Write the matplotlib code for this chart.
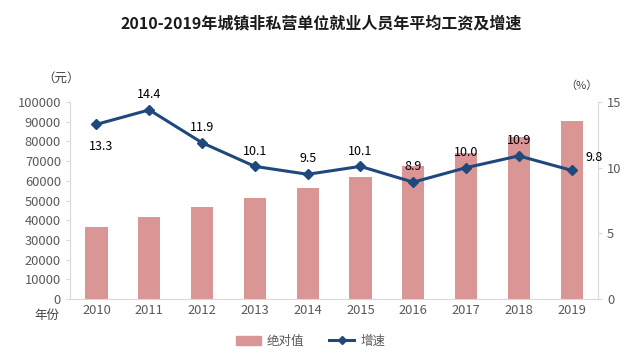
import matplotlib
matplotlib.use("Agg")
import matplotlib.pyplot as plt
from matplotlib.lines import Line2D
from matplotlib.patches import Patch

plt.rcParams['font.family'] = ['Noto Sans CJK SC', 'DejaVu Sans']

years = ['2010', '2011', '2012', '2013', '2014', '2015', '2016', '2017', '2018', '2019']
wages = [36539, 41799, 46769, 51483, 56360, 62029, 67569, 74318, 82413, 90501]
growth = [13.3, 14.4, 11.9, 10.1, 9.5, 10.1, 8.9, 10.0, 10.9, 9.8]
left_ticks = [0, 10000, 20000, 30000, 40000, 50000, 60000, 70000, 80000, 90000, 100000]
right_ticks = [0, 5, 10, 15]

bar_color = '#D99694'
line_color = '#1F497D'
tick_color = '#595959'
spine_color = '#D9D9D9'

fig = plt.figure(figsize=(6.43, 3.63), dpi=100)
ax = fig.add_axes([0.109, 0.176, 0.821, 0.543])
x = list(range(len(years)))
ax.bar(x, wages, width=0.42, color=bar_color, zorder=2)
ax.set_xlim(-0.5, len(years) - 0.5)
ax.set_ylim(0, 100000)
ax.set_yticks(left_ticks)
ax.set_yticklabels([str(t) for t in left_ticks])
ax.set_xticks(x)
ax.set_xticklabels(years)
ax.tick_params(axis='both', colors=tick_color, labelsize=9.3, length=0)
ax.tick_params(axis='y', length=3, color=spine_color)
for s in ['top', 'right']:
    ax.spines[s].set_visible(False)
for s in ['left', 'bottom']:
    ax.spines[s].set_color(spine_color)

ax2 = ax.twinx()
ax2.plot(x, growth, color=line_color, lw=2.2, marker='D', ms=5, zorder=3)
ax2.set_ylim(0, 15)
ax2.set_yticks(right_ticks)
ax2.tick_params(axis='y', colors=tick_color, labelsize=9.3, length=3)
ax2.tick_params(axis='y', color=spine_color)
for s in ['top', 'left', 'bottom']:
    ax2.spines[s].set_visible(False)
ax2.spines['right'].set_color(spine_color)

for i, g in enumerate(growth):
    if i == 0:
        ax2.annotate(f'{g:.1f}', (i, g), xytext=(3, -16), textcoords='offset points',
                     ha='center', va='center', fontsize=9, color='#000000')
    elif i == len(growth) - 1:
        ax2.annotate(f'{g:.1f}', (i, g), xytext=(16, 9), textcoords='offset points',
                     ha='center', va='center', fontsize=9, color='#000000')
    else:
        ax2.annotate(f'{g:.1f}', (i, g), xytext=(0, 11), textcoords='offset points',
                     ha='center', va='center', fontsize=9, color='#000000')

fig.text(0.5, 0.935, '2010-2019年城镇非私营单位就业人员年平均工资及增速', ha='center', va='center',
         fontsize=11.5, fontweight='bold', color='#1a1a1a')
fig.text(0.095, 0.785, '（元）', ha='center', va='center', fontsize=9, color='#404040')
fig.text(0.905, 0.765, '（%）', ha='center', va='center', fontsize=8, color='#404040')
fig.text(0.073, 0.132, '年份', ha='center', va='center', fontsize=9, color='#404040')

handles = [Patch(color=bar_color, label='绝对值'),
           Line2D([0], [0], color=line_color, lw=2.2, marker='D', ms=4, label='增速')]
fig.legend(handles=handles, loc='center', bbox_to_anchor=(0.483, 0.06), ncol=2, frameon=False,
           fontsize=9, handlelength=2.0, handletextpad=0.5, columnspacing=2.0,
           labelcolor='#595959')

fig.savefig('out.png', dpi=100)
